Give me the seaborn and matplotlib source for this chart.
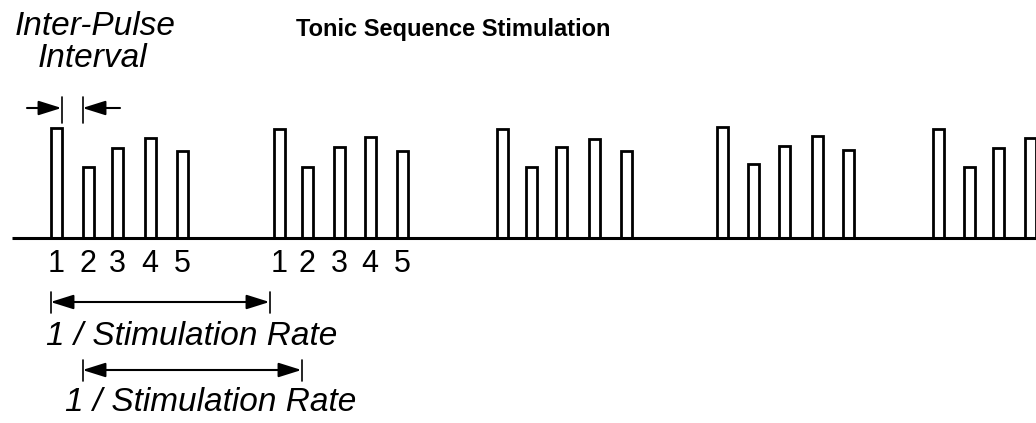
import numpy as np
import pandas as pd
import seaborn as sns
import matplotlib
matplotlib.use("Agg")
import matplotlib.pyplot as plt

# ---- data (x in time units ~ pixels, heights above baseline) ----
group1_pos = [56, 88, 117, 150, 182]
group2_pos = [279, 307, 339, 370, 402]
group3_pos = [502, 531, 561, 594, 626]
group4_pos = [722, 753, 784, 817, 848]
group5_pos = [938, 969, 998, 1030]

group1_amp = [110, 71, 90, 100, 87]
group2_amp = [109, 71, 91, 101, 87]
group3_amp = [109, 71, 91, 99, 87]
group4_amp = [111, 74, 92, 102, 88]
group5_amp = [109, 71, 90, 100]

pulse_labels = ["1", "2", "3", "4", "5"]
title = "Tonic Sequence Stimulation"
rate_label = "1 / Stimulation Rate"

# ---- build table ----
positions = group1_pos + group2_pos + group3_pos + group4_pos + group5_pos
amps = group1_amp + group2_amp + group3_amp + group4_amp + group5_amp
df = pd.DataFrame({"t": positions, "amp": amps})

sns.set_theme(style="white")
plt.rcParams["font.family"] = ["Liberation Sans", "DejaVu Sans"]
plt.rcParams["text.color"] = "black"

fig = plt.figure(figsize=(10.36, 4.23), dpi=100)
ax = fig.add_axes([0, 0, 1, 1])

pulse_width = 11
min_gap = np.min(np.diff(np.sort(df["t"].values)))
sns.barplot(data=df, x="t", y="amp", native_scale=True, errorbar=None,
            width=pulse_width / min_gap, color="white", saturation=1,
            edgecolor="black", linewidth=2.0, ax=ax)

ax.set_xlim(0, 1036)
ax.set_ylim(-185, 238)
ax.axis("off")

# baseline
ax.plot([12, 1036], [0, 0], color="black", lw=2.2, solid_capstyle="butt")

# title
ax.text(453, 209, title, ha="center", va="center", fontsize=17, fontweight="bold", color="black")

# inter-pulse interval label
ax.text(95, 238 - 26, "Inter-Pulse", ha="center", va="center", fontsize=24, style="italic", color="black")
ax.text(92, 238 - 58, "Interval", ha="center", va="center", fontsize=24, style="italic", color="black")

arrow_kw = dict(arrowstyle="-|>,head_length=0.7,head_width=0.22", color="black",
                lw=1.5, mutation_scale=20, shrinkA=0, shrinkB=0)
dbl_kw = dict(arrow_kw)
dbl_kw["arrowstyle"] = "<|-|>,head_length=0.7,head_width=0.22"

# inter-pulse arrows
ipi_left = group1_pos[0] + pulse_width / 2
ipi_right = group1_pos[1] - pulse_width / 2
ax.annotate("", xy=(ipi_left, 130), xytext=(27, 130), arrowprops=arrow_kw)
ax.annotate("", xy=(ipi_right, 130), xytext=(120, 130), arrowprops=arrow_kw)
ax.plot([ipi_left, ipi_left], [115, 141], color="black", lw=1.2)
ax.plot([ipi_right, ipi_right], [115, 141], color="black", lw=1.2)

# pulse numbers
for pos_list in (group1_pos, group2_pos):
    for p, lab in zip(pos_list, pulse_labels):
        ax.text(p, -26, lab, ha="center", va="center", fontsize=22, color="black")

# 1 / stimulation rate arrows
def period_arrow(x0, x1, y, ty, tx):
    ax.annotate("", xy=(x1, y), xytext=(x0, y), arrowprops=dbl_kw)
    ax.plot([x0, x0], [y - 11, y + 10], color="black", lw=1.2)
    ax.plot([x1, x1], [y - 11, y + 10], color="black", lw=1.2)
    ax.text(tx, ty, rate_label, ha="center", va="center", fontsize=24, style="italic", color="black")

period_arrow(group1_pos[0] - pulse_width / 2, group2_pos[0] - pulse_width / 2 - 4, -64, -98, 192)
period_arrow(group1_pos[1] - pulse_width / 2, group2_pos[1] - pulse_width / 2, -132, -164, 211)

fig.savefig("out.png", dpi=100, facecolor="white")
